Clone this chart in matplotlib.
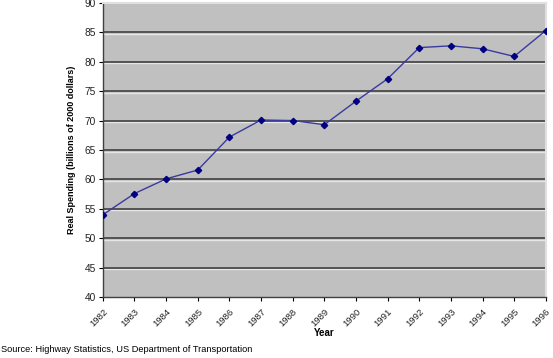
import matplotlib
matplotlib.use("Agg")
import matplotlib.pyplot as plt
import matplotlib.transforms as mtransforms

years = [1982, 1983, 1984, 1985, 1986, 1987, 1988, 1989, 1990, 1991, 1992, 1993, 1994, 1995, 1996]
spending = [54.0, 57.6, 60.1, 61.6, 67.2, 70.1, 70.0, 69.3, 73.3, 77.1, 82.4, 82.7, 82.2, 80.9, 85.3]
yticks = [40, 45, 50, 55, 60, 65, 70, 75, 80, 85, 90]

plt.rcParams['font.family'] = ['Liberation Sans', 'DejaVu Sans']

fig = plt.figure(figsize=(5.53, 3.58), dpi=100)
ax = fig.add_axes([0.186, 0.170, 0.801, 0.822])
ax.set_facecolor('#C0C0C0')

# 3D-like gridlines: dark line with a light line just below
blend = mtransforms.blended_transform_factory(ax.transAxes, ax.transData)
light_off = blend + mtransforms.ScaledTranslation(0, -1.5 / 100, fig.dpi_scale_trans)
for t in yticks[1:-1]:
    ax.plot([0, 1], [t, t], color='#e6e6e6', lw=1.0, transform=light_off, zorder=1)
    ax.plot([0, 1], [t, t], color='#4a4a4a', lw=1.3, transform=blend, zorder=1.5)

ax.plot(years, spending, color='#3a3aa0', lw=1.0, marker='D', markersize=3.2,
        markerfacecolor='#000080', markeredgecolor='#000080', zorder=3)

ax.set_xlim(years[0], years[-1])
ax.set_ylim(yticks[0], yticks[-1])
ax.set_yticks(yticks)
ax.set_xticks(years)
ax.set_xticklabels([str(y) for y in years], rotation=45, ha='right', rotation_mode='anchor', fontsize=6.8, color='#222222')
ax.tick_params(axis='y', labelsize=7.3, length=3, width=0.8, pad=2, labelcolor='#222222')
ax.tick_params(axis='x', length=3, width=0.8, pad=4)

for s in ['top', 'right']:
    ax.spines[s].set_color('#e0e0e0')
    ax.spines[s].set_linewidth(1.5)
for s in ['left', 'bottom']:
    ax.spines[s].set_color('#404040')
    ax.spines[s].set_linewidth(1.0)

ax.set_ylabel('Real Spending (billions of 2000 dollars)', fontsize=6.5, fontweight='bold', labelpad=6)
ax.set_xlabel('Year', fontsize=7, fontweight='bold', labelpad=0)

fig.text(0.002, 0.012, 'Source: Highway Statistics, US Department of Transportation', fontsize=6.7, ha='left', va='bottom')

fig.savefig('out.png', dpi=100)
